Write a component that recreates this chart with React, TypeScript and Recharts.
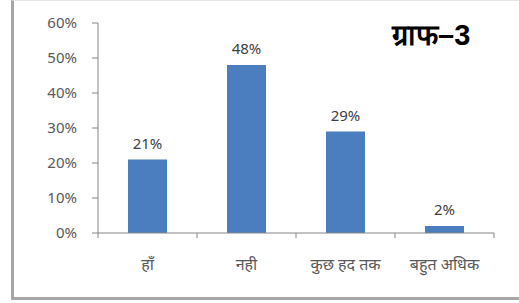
import React from "react";
import { BarChart, Bar, XAxis, YAxis, LabelList } from "recharts";

const categories = ["हाँ", "नही", "कुछ हद तक", "बहुत अधिक"];
const values = [21, 48, 29, 2];
const yTicks = [0, 10, 20, 30, 40, 50, 60];
const title = "ग्राफ–3";

const data = categories.map((c, i) => ({ name: c, value: values[i] }));

const font = "'Noto Sans', 'Open Sans', sans-serif";
const X_TICK_SIZE = 5;
const X_TICK_MARGIN = 21;

const CatTick = (props: any) => {
  const { x, y, payload, index, visibleTicksCount } = props;
  const off = payload && typeof payload.offset === "number" ? payload.offset : 0;
  const axisY = y - X_TICK_SIZE - X_TICK_MARGIN;
  const last = index === (visibleTicksCount ?? categories.length) - 1;
  return (
    <g>
      {off > 0 && (
        <line x1={x - off} x2={x - off} y1={axisY} y2={axisY + X_TICK_SIZE} stroke="#868686" />
      )}
      {off > 0 && last && (
        <line x1={x + off} x2={x + off} y1={axisY} y2={axisY + X_TICK_SIZE} stroke="#868686" />
      )}
      <text
        x={x}
        y={y}
        dy="0.71em"
        textAnchor="middle"
        fill="#595959"
        fontSize={16}
        fontFamily={font}
      >
        {payload.value}
      </text>
    </g>
  );
};

export default function App() {
  return (
    <div style={{ position: "fixed", left: 0, top: 0, width: 519, height: 303, background: "#fff" }}>
      <div
        style={{
          position: "absolute",
          left: 11,
          top: 0,
          width: 505,
          height: 296,
          borderLeft: "3px solid #a6a6a6",
          borderBottom: "3px solid #a6a6a6",
          borderTop: "1px solid #e6e6e6",
          borderRight: "1px solid #e6e6e6",
        }}
      />
      <BarChart
        width={519}
        height={303}
        data={data}
        margin={{ top: 23, right: 25, bottom: 40, left: 0 }}
        style={{ position: "absolute", left: 0, top: 0 }}
      >
        <XAxis
          dataKey="name"
          tickLine={false}
          tickSize={X_TICK_SIZE}
          tickMargin={X_TICK_MARGIN}
          axisLine={{ stroke: "#868686" }}
          tick={CatTick}
          interval={0}
        />
        <YAxis
          width={98}
          domain={[0, 60]}
          ticks={yTicks}
          tickFormatter={(v: number) => `${v}%`}
          axisLine={{ stroke: "#868686" }}
          tickLine={{ stroke: "#868686" }}
          tickSize={6}
          tickMargin={15}
          tick={{ fill: "#595959", fontSize: 15, fontFamily: font }}
        />
        <Bar dataKey="value" fill="#4a7ebf" isAnimationActive={false} barSize={39}>
          <LabelList
            dataKey="value"
            position="top"
            offset={11}
            formatter={(v: number) => `${v}%`}
            style={{ fill: "#404040", fontSize: 15, fontFamily: font }}
          />
        </Bar>
      </BarChart>
      <div
        style={{
          position: "absolute",
          left: 392,
          top: 17,
          fontFamily: "'Liberation Sans', Arial, sans-serif",
          fontWeight: "bold",
          fontSize: 29,
          color: "#000",
          lineHeight: "36px",
        }}
      >
        {title}
      </div>
    </div>
  );
}
